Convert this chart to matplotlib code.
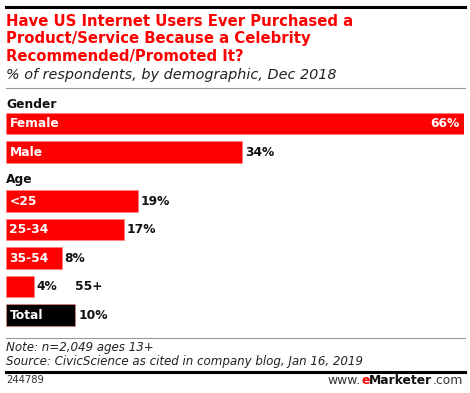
import numpy as np
import matplotlib
matplotlib.use("Agg")
import matplotlib.pyplot as plt
from matplotlib.lines import Line2D

# chart data
groups = ['Gender', 'Age']
categories = ['Female', 'Male', '<25', '25-34', '35-54', '55+', 'Total']
cat_group = [0, 0, 1, 1, 1, 1, 1]
values = [66, 34, 19, 17, 8, 4, 10]

title = ("Have US Internet Users Ever Purchased a\n"
         "Product/Service Because a Celebrity\n"
         "Recommended/Promoted It?")
subtitle = "% of respondents, by demographic, Dec 2018"
note = "Note: n=2,049 ages 13+"
source = "Source: CivicScience as cited in company blog, Jan 16, 2019"
chart_id = "244789"

RED = '#ff0000'
W, H = 470, 393

def fx(px):
    return px / W

def fy(py):
    return 1 - py / H

fig = plt.figure(figsize=(W / 100, H / 100), dpi=100)
fig.patch.set_facecolor('white')

# axes placed so that 0..66% spans the bar area
ax = fig.add_axes([fx(6), fy(335), fx(464) - fx(6), fy(95) - fy(335)])
ax.set_xlim(0, 66)
ax.set_ylim(240 / 28.5, 0)
ax.axis('off')

ypos = np.arange(len(categories)) + 1 + 0.72 * (np.arange(len(categories)) >= 2)
header_y = [0.35, 2.98]

colors = ['black' if c == 'Total' else RED for c in categories]
ax.barh(ypos, values, height=0.74, color=colors, edgecolor='#ff8080', linewidth=0.4)

for g, hy in zip(groups, header_y):
    ax.text(0, hy, g, ha='left', va='center', fontsize=8.8, fontweight='bold', color='#111111')

for y, cat, v in zip(ypos, categories, values):
    if v > 50:
        ax.text(0.5, y, cat, ha='left', va='center', fontsize=8.8, fontweight='bold', color='white')
        ax.annotate(f"{v}%", xy=(v, y), xytext=(-3, 0), textcoords='offset points',
                    ha='right', va='center', fontsize=8.8, fontweight='bold', color='white')
    elif v >= 6:
        ax.text(0.5, y, cat, ha='left', va='center', fontsize=8.8, fontweight='bold', color='white')
        ax.annotate(f"{v}%", xy=(v, y), xytext=(2, 0), textcoords='offset points',
                    ha='left', va='center', fontsize=8.8, fontweight='bold', color='#111111')
    else:
        ax.annotate(f"{v}%", xy=(v, y), xytext=(2, 0), textcoords='offset points',
                    ha='left', va='center', fontsize=8.8, fontweight='bold', color='#111111')
        ax.annotate(cat, xy=(v, y), xytext=(30, 0), textcoords='offset points',
                    ha='left', va='center', fontsize=8.8, fontweight='bold', color='#111111')

# header: rules, title, subtitle
fig.add_artist(Line2D([fx(6), fx(465)], [fy(7), fy(7)], color='black', lw=2.2))
fig.text(fx(6), fy(14), title, ha='left', va='top', fontsize=10.7, fontweight='bold',
         color=RED, linespacing=1.2)
fig.text(fx(6), fy(75), subtitle, ha='left', va='center', fontsize=10.4, style='italic', color='#222222')
fig.add_artist(Line2D([fx(6), fx(465)], [fy(88), fy(88)], color='#999999', lw=0.8))

# footer
fig.add_artist(Line2D([fx(6), fx(465)], [fy(338), fy(338)], color='#999999', lw=0.8))
fig.text(fx(6), fy(348), note, ha='left', va='center', fontsize=8.6, style='italic', color='#222222')
fig.text(fx(6), fy(362), source, ha='left', va='center', fontsize=8.6, style='italic', color='#222222')
fig.add_artist(Line2D([fx(6), fx(465)], [fy(372), fy(372)], color='black', lw=2.2))
fig.text(fx(6), fy(380), chart_id, ha='left', va='center', fontsize=7.2, color='#333333')

# www.eMarketer.com, built right to left
renderer = fig.canvas.get_renderer()
parts = [('.com', '#333333', 'normal'), ('Marketer', '#111111', 'bold'),
         ('e', RED, 'bold'), ('www.', '#333333', 'normal')]
xr = 463
for txt, col, wt in parts:
    t = fig.text(fx(xr), fy(380), txt, ha='right', va='center', fontsize=8.9,
                 color=col, fontweight=wt)
    xr -= t.get_window_extent(renderer).width

fig.savefig('out.png', dpi=100, facecolor='white')
